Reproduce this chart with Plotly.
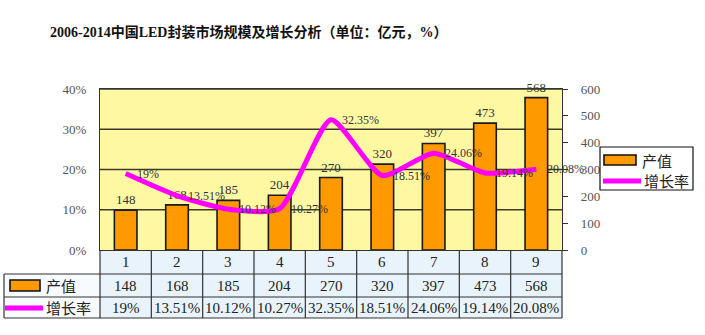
import plotly.graph_objects as go

categories = [1, 2, 3, 4, 5, 6, 7, 8, 9]
output_values = [148, 168, 185, 204, 270, 320, 397, 473, 568]
growth_rates = [19, 13.51, 10.12, 10.27, 32.35, 18.51, 24.06, 19.14, 20.08]
growth_labels = ["19%", "13.51%", "10.12%", "10.27%", "32.35%", "18.51%", "24.06%", "19.14%", "20.08%"]
pct_ticks = [0, 10, 20, 30, 40]
pct_tick_labels = ["0%", "10%", "20%", "30%", "40%"]
value_ticks = [0, 100, 200, 300, 400, 500, 600]
title_text = "2006-2014中国LED封装市场规模及增长分析（单位：亿元，%）"
bar_name = "产值"
line_name = "增长率"

W, H = 705, 335
L, R, T, B = 100, 562, 89, 250
PW, PH = R - L, B - T


def px(x):
    return (x - L) / PW


def py(y):
    return (B - y) / PH


SERIF = "Liberation Serif, Noto Sans CJK SC, serif"
CJK = "Noto Sans CJK SC, Liberation Serif, sans-serif"

fig = go.Figure()
fig.add_trace(go.Bar(
    x=categories, y=output_values, yaxis="y",
    marker=dict(color="#FF9900", line=dict(color="#1a1a1a", width=1.6)),
    width=0.44,
    text=[str(v) for v in output_values], textposition="outside",
    textfont=dict(family=SERIF, size=13, color="#333"),
    cliponaxis=False, showlegend=False,
))
fig.add_trace(go.Scatter(
    x=categories, y=growth_rates, yaxis="y2", mode="lines",
    line=dict(color="#FF00FF", width=5, shape="spline", smoothing=0.6),
    cliponaxis=False, showlegend=False,
))

shapes = []
annotations = []
# line labels
for c, v, t in zip(categories, growth_rates, growth_labels):
    annotations.append(dict(x=c, y=v, xref="x", yref="y2", text=t, xanchor="left",
                            yanchor="middle", xshift=9, showarrow=False,
                            font=dict(family=SERIF, size=12, color="#333")))

# gridlines (percent axis 10..40 -> bar axis 150..600)
for g in [150, 300, 450, 600]:
    shapes.append(dict(type="line", xref="paper", yref="y", x0=0, x1=1, y0=g, y1=g,
                       line=dict(color="#3a3a2a", width=1.3), layer="below"))

# table
colw = PW / 9
shapes.append(dict(type="rect", xref="paper", yref="paper", x0=px(L), x1=px(R),
                   y0=py(318), y1=py(250), fillcolor="#E9F3FB", line=dict(width=0), layer="below"))
shapes.append(dict(type="rect", xref="paper", yref="paper", x0=px(4), x1=px(L),
                   y0=py(318), y1=py(274), fillcolor="#F7FBFE", line=dict(width=0), layer="below"))
lc = dict(color="#333", width=1.2)
for yy in [274, 297, 318]:
    shapes.append(dict(type="line", xref="paper", yref="paper", x0=px(4), x1=px(R),
                       y0=py(yy), y1=py(yy), line=lc))
for k in range(10):
    xx = L + k * colw
    shapes.append(dict(type="line", xref="paper", yref="paper", x0=px(xx), x1=px(xx),
                       y0=py(318), y1=py(250), line=lc))
shapes.append(dict(type="line", xref="paper", yref="paper", x0=px(4), x1=px(4),
                   y0=py(318), y1=py(274), line=lc))

for i, c in enumerate(categories):
    annotations.append(dict(x=c, y=py(262), xref="x", yref="paper", text=str(c),
                            xanchor="center", yanchor="middle",
                            showarrow=False, font=dict(family=SERIF, size=15, color="#222")))
    annotations.append(dict(x=c, y=py(285.5), xref="x", yref="paper", text=str(output_values[i]),
                            xanchor="center", yanchor="middle",
                            showarrow=False, font=dict(family=SERIF, size=15, color="#222")))
    annotations.append(dict(x=c, y=py(307.5), xref="x", yref="paper", text=growth_labels[i],
                            xanchor="center", yanchor="middle",
                            showarrow=False, font=dict(family=SERIF, size=15, color="#222")))

# table row keys
shapes.append(dict(type="rect", xref="paper", yref="paper", x0=px(10), x1=px(40),
                   y0=py(291), y1=py(280), fillcolor="#FF9900", line=dict(color="#111", width=1.6)))
annotations.append(dict(x=px(44), y=py(285.5), xref="paper", yref="paper", text=bar_name,
                        xanchor="left", yanchor="middle", showarrow=False,
                        font=dict(family=CJK, size=15, color="#222")))
shapes.append(dict(type="line", xref="paper", yref="paper", x0=px(5), x1=px(43),
                   y0=py(308), y1=py(308), line=dict(color="#FF00FF", width=5)))
annotations.append(dict(x=px(44), y=py(307.5), xref="paper", yref="paper", text=line_name,
                        xanchor="left", yanchor="middle", showarrow=False,
                        font=dict(family=CJK, size=15, color="#222")))

# legend
shapes.append(dict(type="rect", xref="paper", yref="paper", x0=px(600), x1=px(693),
                   y0=py(190), y1=py(147), fillcolor="white", line=dict(color="#111", width=1.2)))
shapes.append(dict(type="rect", xref="paper", yref="paper", x0=px(604), x1=px(636),
                   y0=py(165), y1=py(155), fillcolor="#FF9900", line=dict(color="#111", width=1.6)))
annotations.append(dict(x=px(640), y=py(160), xref="paper", yref="paper", text=bar_name,
                        xanchor="left", yanchor="middle", showarrow=False,
                        font=dict(family=CJK, size=15, color="#222")))
shapes.append(dict(type="line", xref="paper", yref="paper", x0=px(603), x1=px(641),
                   y0=py(181), y1=py(181), line=dict(color="#FF00FF", width=5)))
annotations.append(dict(x=px(642), y=py(180), xref="paper", yref="paper", text=line_name,
                        xanchor="left", yanchor="middle", showarrow=False,
                        font=dict(family=CJK, size=15, color="#222")))

# title
annotations.append(dict(x=px(248), y=py(32), xref="paper", yref="paper", text="<b>" + title_text + "</b>",
                        xanchor="center", yanchor="middle", showarrow=False,
                        font=dict(family=SERIF, size=14, color="#111")))

fig.update_layout(
    width=W, height=H,
    margin=dict(l=L, r=W - R, t=T, b=H - B, pad=0),
    paper_bgcolor="white", plot_bgcolor="#FFF8A3",
    bargap=0.5,
    xaxis=dict(range=[0.5, 9.5], showticklabels=False, ticks="", showgrid=False,
               showline=True, linecolor="#333", linewidth=1.2, mirror=True, zeroline=False),
    yaxis=dict(range=[0, 600], side="right", tickmode="array", tickvals=value_ticks,
               ticktext=[str(v) for v in value_ticks],
               ticks="outside", ticklen=5, tickcolor="#333", showgrid=False, zeroline=False,
               tickfont=dict(family=SERIF, size=13, color="#555"), ticklabelstandoff=10,
               showline=True, linecolor="#333", linewidth=1.2),
    yaxis2=dict(range=[0, 40], overlaying="y", side="left", tickmode="array",
                tickvals=pct_ticks, ticktext=pct_tick_labels,
                showgrid=False, zeroline=False, ticks="",
                tickfont=dict(family=SERIF, size=13, color="#555"), ticklabelstandoff=10,
                showline=True, linecolor="#333", linewidth=1.2),
    shapes=shapes, annotations=annotations,
)

fig.write_html("out.html")
